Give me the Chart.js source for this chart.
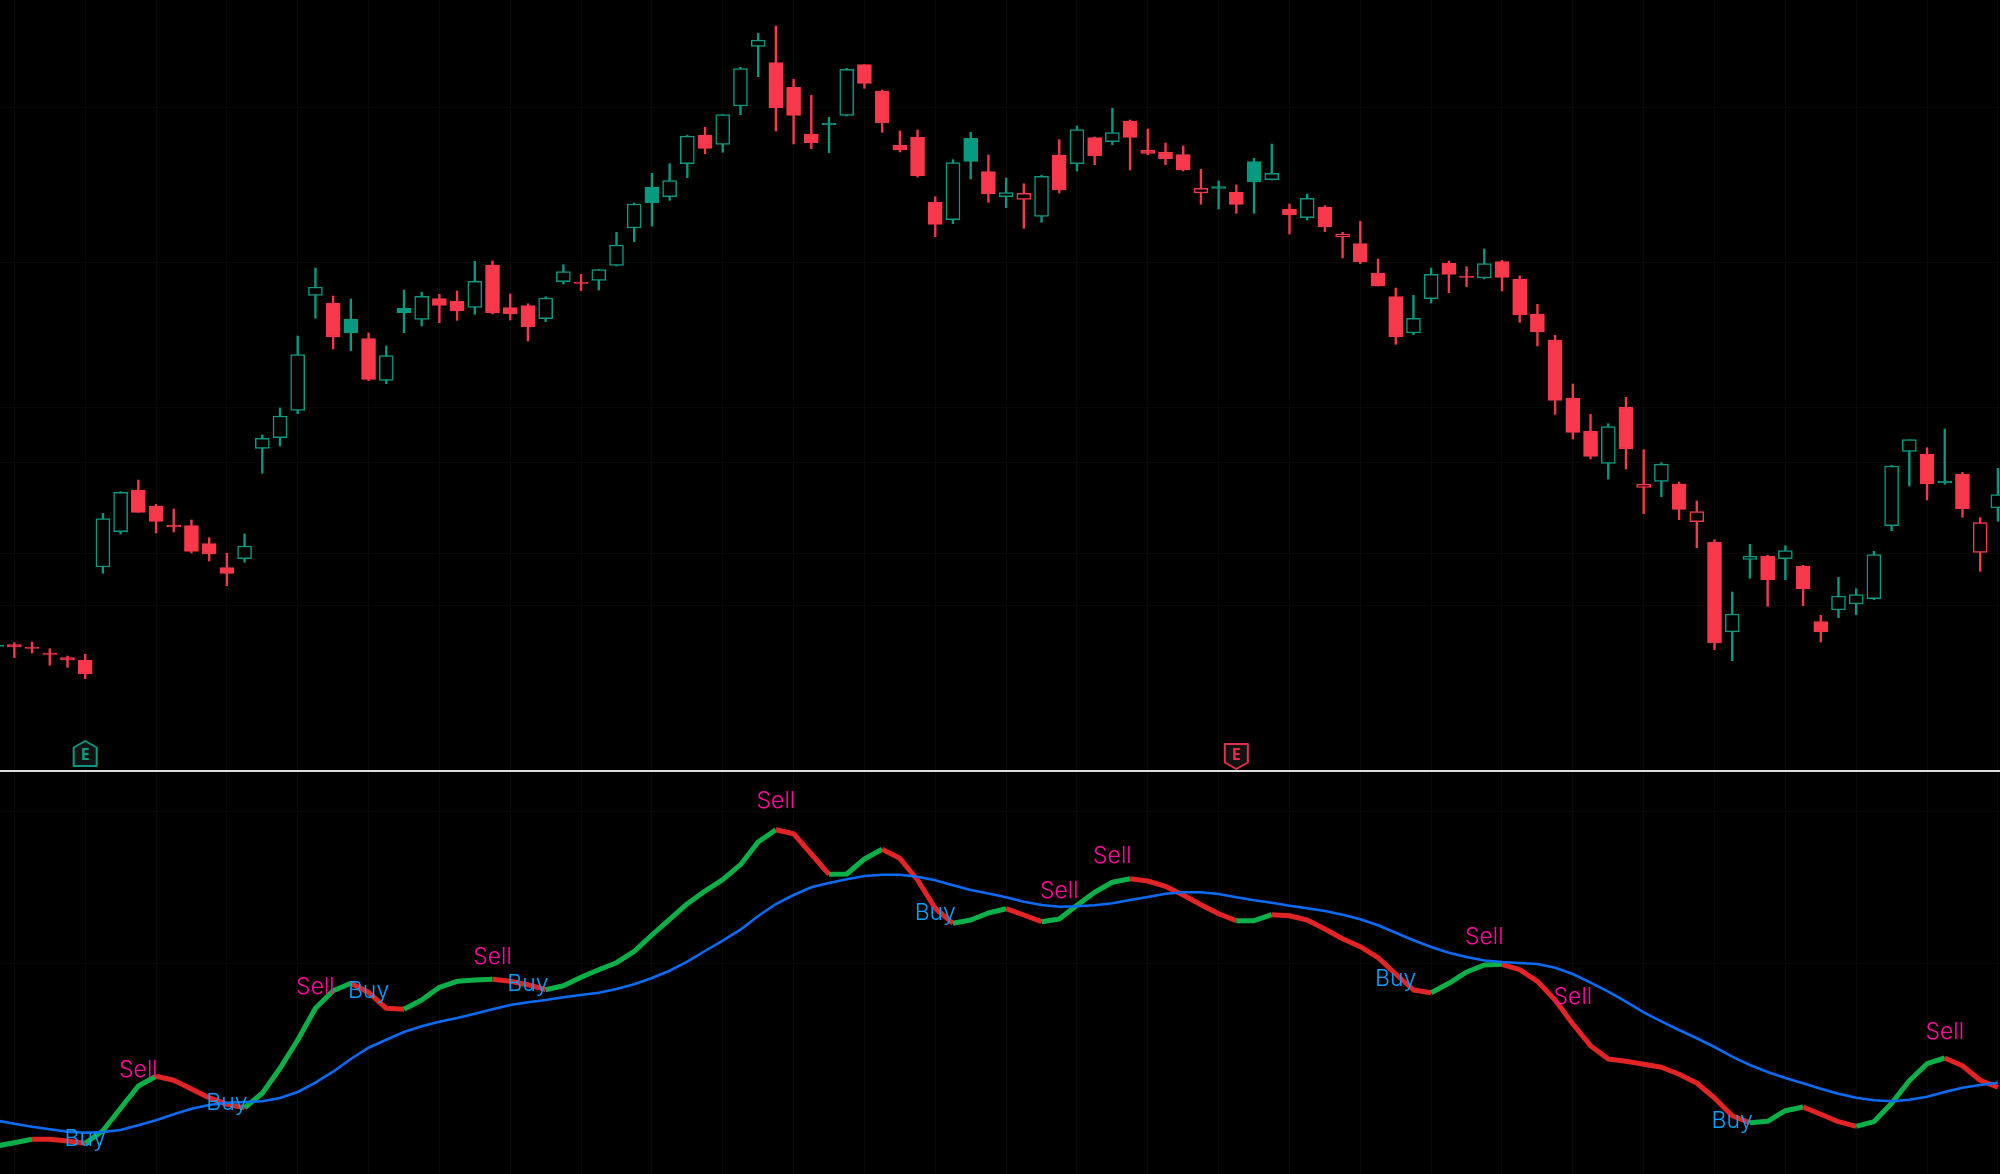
<!DOCTYPE html>
<html>
<head>
<meta charset="utf-8">
<title>Candles with crossover pane</title>
<script src="https://cdn.jsdelivr.net/npm/chart.js@4"></script>
<style>
  html, body { margin: 0; padding: 0; background: #000; overflow: hidden; }
  #stage { position: relative; width: 2000px; height: 1174px; background: #000; }
  #priceChart { position: absolute; left: 0; top: 0; }
  #signalChart { position: absolute; left: 0; top: 770px; }
  #divider { position: absolute; left: 0; top: 770px; width: 2000px; height: 2px; background: #dcdcdc; z-index: 2; }
</style>
</head>
<body>
<div id="stage">
  <canvas id="priceChart" width="2000" height="770"></canvas>
  <canvas id="signalChart" width="2000" height="404"></canvas>
  <div id="divider"></div>
</div>
<script>
// there is no price axis so the units are arbitrary
const opens = [125,125.3,123,117,112.3,109.7,203,238.3,280,264,244.7,244.3,226.3,202.3,211.3,321.7,332.3,359.7,474.7,466.7,
  450.7,431.3,389.7,461.7,450.7,471.3,468.7,462.7,505,462.3,464.3,451.3,488.3,488,489.7,504.7,542,582.7,573.3,606.3,
  634.7,625.7,664,723.7,707.3,682.7,636,646.7,654.7,705.3,679,624.7,632.7,568,550.3,631.7,598.3,573.3,570.7,553.7,
  614.7,606.3,632.3,628.3,649,619.7,618,615.3,577,583.5,577.7,608.3,590.3,560.7,552.3,562.7,533,526.3,496.7,473.3,
  437,471.3,506.7,494,492,508.3,490.7,455.7,430,372,339,306.7,363,282.7,288.7,286,248.3,227.7,138,210.7,
  213.7,211.3,204,148.3,160,166,171.3,244.3,318.7,315.7,289,295.7,217.7,262];
const closes = [123.5,123,121.5,115.5,110,96,251.3,277.7,257.7,248.7,243,218.7,216,196.7,224,331.7,354,415.3,483,433,
  437.3,390.7,414.3,457.3,473.7,464.7,459.3,488.7,457,456.3,443.3,472,498.3,486.5,500.3,525,566,567.3,589.3,634,
  621.7,655.3,701.3,730,662,654.7,627.3,645.3,700.7,686.7,647,620.3,594.3,545.7,607.3,608.7,576.3,577.3,576.7,593.7,
  580,640.3,614,637.3,632.7,616.7,611.3,600.3,581.7,581.5,565.7,588,596.7,555,571.7,543.3,535.7,508,484,433,
  451.7,495.7,495.7,492.5,506.3,492.7,455,438.3,369.7,337.7,313.7,343.3,321,285.7,306,260.7,258.3,127,156,213.7,
  190,219.3,181.3,138,174,175.3,215.3,304,330.3,286,287,261.3,247.3,275.3];
const highs = [126,127.3,128,121.3,114,115.7,256.7,278.3,290,265.7,261,250,232.3,216.7,236,335,362,434,502,474,
  471,437,424,480,477.7,475.7,479,508.7,509,476,466.3,473.3,505.3,495.7,500.7,537.7,567,596.7,606.3,634.7,
  642.7,655.7,702.7,736.7,744,690.7,674.7,652.7,701.7,705.3,680,639,640,573.3,610.3,637.7,615,592,586.3,594.7,
  630.3,644,633,661.7,650,641,627,624,600.7,589,585,611.7,626,566,576,564.3,537.7,548.7,511,482,
  474.7,502,509,503.3,521,509.7,494,465.7,434.7,386,355.7,346.3,372.7,320.3,307.3,288,269,230.3,178,225.7,
  214.7,224.3,204.7,154.7,192.7,181.3,218.7,304.7,330.3,322.3,341,297.7,252.3,301.7];
const lows = [123,112.3,117,104.7,102.7,91.3,196.7,236,257.7,237,238,217,209,184.3,207.7,296.7,324,356.3,451.7,421,
  419.3,389.3,386.3,437.3,444,447.3,449.7,455.7,456,450,429,448.3,486,479.3,480,504,528.3,544,569.7,592.3,
  616.3,617.7,655.3,693.3,639,626,621.3,617.3,654,681.7,637.7,618,593,533.3,546.3,591,567.7,562.3,541.7,547.7,
  577,599,605.3,625.3,600,615.3,605.3,599,565.7,561,556.7,556.7,590,536,550,538.3,512,506.3,484,425.7,
  435.3,467,477.3,483.3,491,479,447.7,424,355.7,331,311,291,301,256.3,273.3,250.3,222.3,120.3,109.3,191.7,
  163.7,190.3,164.3,128,152.3,155.3,170.3,239.3,284,270,285.7,252.7,198.7,248.7];
// the colour compares with the previous close in the original, so it is listed as seen
const candleTones = ('g' + 'rrrrr' + 'gg' + 'rrrrrr' + 'ggggg' + 'r' + 'g' + 'r' + 'ggg' + 'rr' + 'g' + 'rrr' + 'gg' + 'r' + 'gggggg'
  + 'r' + 'ggg' + 'rrr' + 'gg' + 'rrrrr' + 'gg' + 'r' + 'g' + 'r' + 'g' + 'r' + 'g' + 'r' + 'g' + 'rrrrr' + 'g' + 'r' + 'gg' + 'r' + 'g'
  + 'rrrrr' + 'gg' + 'rr' + 'g' + 'rrrrrr' + 'g' + 'rr' + 'g' + 'rrr' + 'gg' + 'r' + 'g' + 'rr' + 'ggggg' + 'r' + 'g' + 'rr' + 'g').split('');

const fastLine = [28,31.3,34.7,34.7,33,30.7,43.3,65.7,88,97.7,93.7,85,76.3,69.7,66.3,80.7,105.7,134,165.7,183.3,
  190.7,181.7,165.7,164.7,174,186.7,192.7,194,194.7,192.7,189.3,184.3,188.3,196.7,204.3,211.3,222.7,239,254.7,270.3,
  283,294.3,309.3,332,344.3,340.3,320,299.7,300,315,324.7,315.7,294,265.7,250.7,254,261,265.3,259,252.3,
  255,268.7,281.7,291.7,295.3,293,287.7,279,269.3,260.3,253.3,253.3,259.3,258.3,254,245,235.3,227.3,216.3,200,
  184,181.3,190.7,202,209,209.7,204.3,192.7,174,150,128.3,115,112.7,109.7,106.7,99.7,91,76,58.3,51.3,
  52.7,63.3,67,59.7,52.3,47.7,52.3,70.7,93.3,110.3,116,108.3,93.7,86.7];
const slowLine = [53.5,50.3,47.3,44.7,42.3,41.3,42,44,48.7,53.7,59.7,65.3,69,71.3,72,72.7,76,82,91.3,102.3,
  115,126.3,134.3,142,147.7,152.3,156,160.3,164.7,169,171.7,174,176.7,179,181.3,185,189.7,196,203.3,212.3,
  223,233.3,244.3,258,270,279,286.7,291,294.7,298,299.3,299.3,297.3,293.7,288.7,284,280.5,276.7,272.3,269,
  267.3,267.7,268.7,270.7,274,277,280.3,281.7,281.7,280,276.7,273.7,271.3,268.3,265.7,263,259.3,254.7,248.7,241.3,
  233.7,227,221.3,217,213.5,212,211,210,206.3,200,191.3,182.3,172.3,161.7,152.7,144,135.7,127,117.3,109,
  102,96,90.7,85.3,80.3,76.3,73.7,72.7,74.3,77.3,82,86.3,89,91.3];
// tone of each stretch between two neighbouring points of the fast line
const fastTones = ('gg' + 'rrr' + 'gggg' + 'rrrrr' + 'gggggg' + 'rrr' + 'ggggg' + 'rrr' + 'ggggggggggggg' + 'rrr' + 'ggg' + 'rrrr'
  + 'ggg' + 'rr' + 'ggggg' + 'rrrrrr' + 'gg' + 'rrrrrrrrr' + 'gggg' + 'rrrrrrrrrrrrrr' + 'ggg' + 'rrr' + 'ggggg' + 'rrr').split('');

const signalIndexes = [5,8,13,18,21,28,30,44,53,60,63,79,84,89,98,110];
const signalValues = [35,104,71.3,187.3,182.7,217,190,372.7,261,283.3,318.3,195,236.7,177,53.3,142];
const signalTexts = ['Buy','Sell','Buy','Sell','Buy','Sell','Buy','Sell','Buy','Sell','Sell','Buy','Sell','Sell','Buy','Sell'];

const earningsIndexes = [5, 70];
const earningsValues = [16, 14];
const earningsTones = ['g', 'r'];

const priceGridValues = [165, 217, 308, 363, 507, 663];
const signalGridValues = [211, 362];

const candleGreen = '#089981';
const candleRed = '#f7394b';
const lineGreen = '#0bb048';
const lineRed = '#e32424';
const slowBlue = '#0a6cf5';
const sellColor = '#ff0a9c';
const buyColor = '#0aa0ff';
const gridColor = '#090909';

const candleIndexes = opens.map((_, i) => i);

function toneColor(i) {
  return candleTones[i] === 'g' ? candleGreen : candleRed;
}

function xAxis() {
  return {
    type: 'linear',
    min: 0.19,
    max: 113.12,
    offset: false,
    border: { display: false },
    grid: { color: gridColor, lineWidth: 1, offset: false, drawTicks: false },
    ticks: { display: false },
    afterBuildTicks(scale) {
      // a grid line every fourth candle
      scale.ticks = candleIndexes.filter((i) => i % 4 === 1).map((i) => ({ value: i }));
    }
  };
}

function yAxis(max, gridValues) {
  return {
    min: 0,
    max,
    beginAtZero: false,
    border: { display: false },
    grid: { color: gridColor, lineWidth: 1, drawTicks: false },
    ticks: { display: false },
    afterBuildTicks(scale) {
      scale.ticks = gridValues.map((value) => ({ value }));
    }
  };
}

const earningsPlugin = {
  id: 'earningsBadges',
  afterDatasetsDraw(chart) {
    const { ctx, scales } = chart;
    earningsIndexes.forEach((index, n) => {
      const cx = scales.x.getPixelForValue(index);
      const cy = scales.y.getPixelForValue(earningsValues[n]);
      const pointsUp = earningsTones[n] === 'g';
      const color = pointsUp ? candleGreen : '#e0304a';
      const dir = pointsUp ? 1 : -1;
      ctx.save();
      ctx.beginPath();
      ctx.moveTo(cx, cy - 13 * dir);
      ctx.lineTo(cx + 11.5, cy - 6.5 * dir);
      ctx.lineTo(cx + 11.5, cy + 12 * dir);
      ctx.lineTo(cx - 11.5, cy + 12 * dir);
      ctx.lineTo(cx - 11.5, cy - 6.5 * dir);
      ctx.closePath();
      ctx.fillStyle = '#121212';
      ctx.strokeStyle = color;
      ctx.lineWidth = 2;
      ctx.lineJoin = 'round';
      ctx.fill();
      ctx.stroke();
      ctx.fillStyle = color;
      ctx.font = '700 16px "Open Sans"';
      ctx.textAlign = 'center';
      ctx.textBaseline = 'middle';
      ctx.fillText('E', cx, cy + (pointsUp ? 1 : -1));
      ctx.restore();
    });
  }
};

const signalLabelPlugin = {
  id: 'signalLabels',
  afterDatasetsDraw(chart) {
    const { ctx, scales } = chart;
    ctx.save();
    ctx.font = '300 23px Inter';
    ctx.textAlign = 'center';
    ctx.textBaseline = 'middle';
    signalTexts.forEach((text, n) => {
      ctx.fillStyle = text === 'Sell' ? sellColor : buyColor;
      ctx.fillText(text, scales.x.getPixelForValue(signalIndexes[n]), scales.y.getPixelForValue(signalValues[n]));
    });
    ctx.restore();
  }
};

new Chart(document.getElementById('priceChart'), {
  type: 'bar',
  data: {
    datasets: [
      {
        label: 'Wick',
        order: 2,
        grouped: false,
        barThickness: 1.7,
        data: candleIndexes.map((i) => ({ x: i, y: [lows[i], highs[i]] })),
        backgroundColor: (c) => toneColor(c.dataIndex),
        borderWidth: 0
      },
      {
        label: 'Body',
        order: 1,
        grouped: false,
        barThickness: 14,
        data: candleIndexes.map((i) => ({ x: i, y: [opens[i], closes[i]] })),
        // close above open is drawn hollow
        backgroundColor: (c) => (closes[c.dataIndex] > opens[c.dataIndex] ? '#000' : toneColor(c.dataIndex)),
        borderColor: (c) => toneColor(c.dataIndex),
        borderWidth: 1.5,
        borderSkipped: false
      }
    ]
  },
  options: {
    responsive: false,
    animation: false,
    devicePixelRatio: 1,
    layout: { padding: 0 },
    plugins: { legend: { display: false }, tooltip: { enabled: false } },
    scales: { x: xAxis(), y: yAxis(770, priceGridValues) }
  },
  plugins: [earningsPlugin]
});

new Chart(document.getElementById('signalChart'), {
  type: 'line',
  data: {
    datasets: [
      {
        label: 'Slow',
        order: 1,
        data: candleIndexes.map((i) => ({ x: i, y: slowLine[i] })),
        borderColor: slowBlue,
        borderWidth: 2.6,
        pointRadius: 0,
        tension: 0
      },
      {
        label: 'Fast',
        order: 2,
        data: candleIndexes.map((i) => ({ x: i, y: fastLine[i] })),
        borderColor: lineGreen,
        borderWidth: 5,
        pointRadius: 0,
        tension: 0,
        borderJoinStyle: 'round',
        segment: {
          borderColor: (c) => (fastTones[c.p0DataIndex] === 'g' ? lineGreen : lineRed)
        }
      }
    ]
  },
  options: {
    responsive: false,
    animation: false,
    devicePixelRatio: 1,
    layout: { padding: 0 },
    plugins: { legend: { display: false }, tooltip: { enabled: false } },
    scales: { x: xAxis(), y: yAxis(404, signalGridValues) }
  },
  plugins: [signalLabelPlugin]
});
</script>
</body>
</html>
